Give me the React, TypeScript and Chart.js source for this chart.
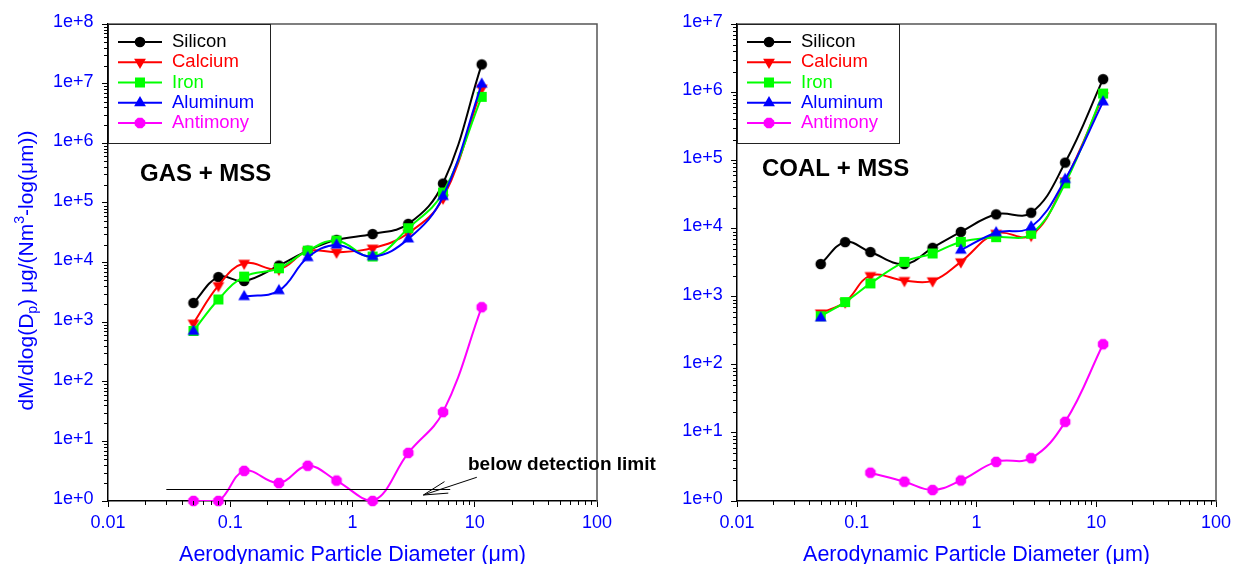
import React, { useEffect, useRef } from 'react';
import { Chart, registerables } from 'chart.js';

Chart.register(...registerables);

const FONT = '"Liberation Sans", Arial, Helvetica, sans-serif';
const AXIS_BLUE = '#0000ff';

// ---------------- data ----------------
const diameters = [0.05, 0.08, 0.13, 0.25, 0.43, 0.74, 1.46, 2.86, 5.5, 11.4];

const gasSilicon = [2100, 5700, 4900, 8900, 15800, 24000, 30000, 44500, 211000, 21000000];
const gasCalcium = [960, 4100, 9700, 7700, 15500, 14900, 17400, 31000, 120000, 8400000];
const gasIron = [710, 2400, 5800, 8000, 15800, 23300, 12600, 37600, 149000, 6000000];
const gasAluminum = [700, null, 2680, 3370, 12100, 19700, 12600, 24900, 128000, 9800000];
const gasAntimony = [1.0, 1.0, 3.2, 2.0, 3.9, 2.2, 1.0, 6.4, 31, 1780];

const coalSilicon = [3000, 6300, 4500, 3000, 5200, 8900, 16100, 17000, 92500, 1550000];
const coalCalcium = [575, 830, 2030, 1720, 1700, 3230, 8450, 7900, 49700, 880000];
const coalIron = [515, 830, 1560, 3230, 4290, 6340, 7440, 8340, 45900, 955000];
const coalAluminum = [486, null, null, null, null, 4800, 8650, 10500, 52400, 720000];
const coalAntimony = [null, null, 2.6, 1.92, 1.45, 2.0, 3.75, 4.25, 14.5, 200];

const seriesNames = ['Silicon', 'Calcium', 'Iron', 'Aluminum', 'Antimony'];
const seriesColors = ['#000000', '#ff0000', '#00ff00', '#0000ff', '#ff00ff'];
type MarkerKind = 'circle' | 'triangleDown' | 'square' | 'triangle' | 'octagon';
const seriesMarkers: MarkerKind[] = ['circle', 'triangleDown', 'square', 'triangle', 'octagon'];

const xTickValues = [0.01, 0.1, 1, 10, 100];
const xTickLabels = ['0.01', '0.1', '1', '10', '100'];
const gasYTickValues = [1, 10, 100, 1e3, 1e4, 1e5, 1e6, 1e7, 1e8];
const gasYTickLabels = ['1e+0', '1e+1', '1e+2', '1e+3', '1e+4', '1e+5', '1e+6', '1e+7', '1e+8'];
const coalYTickValues = [1, 10, 100, 1e3, 1e4, 1e5, 1e6, 1e7];
const coalYTickLabels = ['1e+0', '1e+1', '1e+2', '1e+3', '1e+4', '1e+5', '1e+6', '1e+7'];

const xAxisTitle = 'Aerodynamic Particle Diameter (\u03bcm)';
const yAxisTitleParts = [
  { text: 'dM/dlog(D', kind: 'normal' },
  { text: 'p', kind: 'sub' },
  { text: ') \u03bcg/(Nm', kind: 'normal' },
  { text: '3', kind: 'sup' },
  { text: '-log(\u03bcm))', kind: 'normal' },
];

const detectionLimit = 1.57;
const detectionLineX = [0.03, 6.3];
const arrowTip = { x: 3.8, y: 1.26 };
const arrowTail = { x: 10.4, y: 2.5 };
const detectionLabel = { text: 'below detection limit', x: 8.8, y: 4.0 };

// ---------------- helpers ----------------
function traceMarker(ctx: CanvasRenderingContext2D, kind: MarkerKind, x: number, y: number) {
  ctx.beginPath();
  if (kind === 'circle') {
    ctx.arc(x, y, 5.3, 0, Math.PI * 2);
  } else if (kind === 'square') {
    ctx.rect(x - 5, y - 5, 10, 10);
  } else if (kind === 'triangle' || kind === 'triangleDown') {
    const r = 6.8;
    const s = kind === 'triangle' ? 1 : -1;
    ctx.moveTo(x, y - s * r);
    ctx.lineTo(x + r * 0.866, y + s * r * 0.5);
    ctx.lineTo(x - r * 0.866, y + s * r * 0.5);
  } else {
    const r = 5.7;
    for (let k = 0; k < 8; k++) {
      const a = Math.PI / 8 + (k * Math.PI) / 4;
      const px = x + r * Math.cos(a);
      const py = y + r * Math.sin(a);
      if (k === 0) ctx.moveTo(px, py);
      else ctx.lineTo(px, py);
    }
  }
  ctx.closePath();
}

function makeMarkerImage(kind: MarkerKind, color: string) {
  const c = document.createElement('canvas');
  c.width = 16;
  c.height = 16;
  const ctx = c.getContext('2d')!;
  ctx.fillStyle = color;
  traceMarker(ctx, kind, 8, 8);
  ctx.fill();
  return c;
}

type PanelSpec = {
  id: string;
  canvasLeft: number;
  canvasWidth: number;
  yAxisWidth: number;
  padRight: number;
  yMax: number;
  yTickValues: number[];
  yTickLabels: string[];
  yTickPadding: number;
  series: (number | null)[][];
  title: string;
  titleOffset: { dx: number; dy: number };
  showYTitle: boolean;
  showDetection: boolean;
};

const panels: PanelSpec[] = [
  {
    id: 'gas',
    canvasLeft: 0,
    canvasWidth: 670,
    yAxisWidth: 108,
    padRight: 73,
    yMax: 1e8,
    yTickValues: gasYTickValues,
    yTickLabels: gasYTickLabels,
    yTickPadding: 8.5,
    series: [gasSilicon, gasCalcium, gasIron, gasAluminum, gasAntimony],
    title: 'GAS + MSS',
    titleOffset: { dx: 32, dy: 150 },
    showYTitle: true,
    showDetection: true,
  },
  {
    id: 'coal',
    canvasLeft: 670,
    canvasWidth: 573,
    yAxisWidth: 67,
    padRight: 27,
    yMax: 1e7,
    yTickValues: coalYTickValues,
    yTickLabels: coalYTickLabels,
    yTickPadding: 8.3,
    series: [coalSilicon, coalCalcium, coalIron, coalAluminum, coalAntimony],
    title: 'COAL + MSS',
    titleOffset: { dx: 25, dy: 145 },
    showYTitle: false,
    showDetection: false,
  },
];

function makeDecorPlugin(p: PanelSpec) {
  return {
    id: 'decor_' + p.id,
    afterDraw(chart: any) {
      const { ctx, chartArea: a, scales } = chart;
      const xs = scales.x;
      const ys = scales.y;
      ctx.save();

      // frame top / right
      ctx.strokeStyle = '#555555';
      ctx.lineWidth = 1.5;
      ctx.beginPath();
      ctx.moveTo(a.left, a.top);
      ctx.lineTo(a.right, a.top);
      ctx.lineTo(a.right, a.bottom);
      ctx.stroke();

      // minor ticks
      ctx.strokeStyle = '#000';
      ctx.lineWidth = 1;
      ctx.beginPath();
      for (let e = -2; e < 2; e++) {
        for (let k = 2; k <= 9; k++) {
          const px = Math.round(xs.getPixelForValue(k * Math.pow(10, e))) + 0.5;
          ctx.moveTo(px, a.bottom);
          ctx.lineTo(px, a.bottom + 4);
        }
      }
      for (let e = 0; e < Math.log10(p.yMax); e++) {
        for (let k = 2; k <= 9; k++) {
          const py = Math.round(ys.getPixelForValue(k * Math.pow(10, e))) + 0.5;
          ctx.moveTo(a.left, py);
          ctx.lineTo(a.left - 4, py);
        }
      }
      ctx.stroke();

      // legend
      const lx = a.left;
      const ly = a.top;
      ctx.fillStyle = '#ffffff';
      ctx.fillRect(lx, ly, 162, 119);
      ctx.strokeStyle = '#222';
      ctx.lineWidth = 1;
      ctx.strokeRect(lx + 0.5, ly + 0.5, 162, 119);
      ctx.font = `18.5px ${FONT}`;
      ctx.textBaseline = 'middle';
      ctx.textAlign = 'left';
      seriesNames.forEach((name, i) => {
        const ry = ly + 18 + i * 20.25;
        ctx.strokeStyle = seriesColors[i];
        ctx.lineWidth = 2;
        ctx.beginPath();
        ctx.moveTo(lx + 10, ry);
        ctx.lineTo(lx + 54, ry);
        ctx.stroke();
        ctx.fillStyle = seriesColors[i];
        traceMarker(ctx, seriesMarkers[i], lx + 32, ry);
        ctx.fill();
        ctx.fillText(name, lx + 64, ry);
      });

      // panel title
      ctx.fillStyle = '#000';
      ctx.font = `bold 24px ${FONT}`;
      ctx.textBaseline = 'middle';
      ctx.fillText(p.title, a.left + p.titleOffset.dx, a.top + p.titleOffset.dy);

      // y axis title
      if (p.showYTitle) {
        const mainFont = `21px ${FONT}`;
        const smallFont = `14px ${FONT}`;
        let total = 0;
        const widths = yAxisTitleParts.map((s) => {
          ctx.font = s.kind === 'normal' ? mainFont : smallFont;
          const w = ctx.measureText(s.text).width;
          total += w;
          return w;
        });
        ctx.save();
        ctx.translate(33, (a.top + a.bottom) / 2 + 8);
        ctx.rotate(-Math.PI / 2);
        ctx.fillStyle = AXIS_BLUE;
        ctx.textBaseline = 'alphabetic';
        let pos = -total / 2;
        yAxisTitleParts.forEach((s, i) => {
          ctx.font = s.kind === 'normal' ? mainFont : smallFont;
          const dy = s.kind === 'sub' ? 4 : s.kind === 'sup' ? -9 : 0;
          ctx.fillText(s.text, pos, dy);
          pos += widths[i];
        });
        ctx.restore();
      }

      // detection limit annotation
      if (p.showDetection) {
        ctx.strokeStyle = '#000';
        ctx.lineWidth = 1;
        const dy = Math.round(ys.getPixelForValue(detectionLimit)) + 0.5;
        ctx.beginPath();
        ctx.moveTo(xs.getPixelForValue(detectionLineX[0]), dy);
        ctx.lineTo(xs.getPixelForValue(detectionLineX[1]), dy);
        ctx.stroke();
        const tx = xs.getPixelForValue(arrowTip.x);
        const ty = ys.getPixelForValue(arrowTip.y);
        const sx = xs.getPixelForValue(arrowTail.x);
        const sy = ys.getPixelForValue(arrowTail.y);
        const ang = Math.atan2(sy - ty, sx - tx);
        const hl = 25;
        const spread = (14 * Math.PI) / 180;
        ctx.beginPath();
        ctx.moveTo(sx, sy);
        ctx.lineTo(tx, ty);
        ctx.moveTo(tx + hl * Math.cos(ang - spread), ty + hl * Math.sin(ang - spread));
        ctx.lineTo(tx, ty);
        ctx.lineTo(tx + hl * Math.cos(ang + spread), ty + hl * Math.sin(ang + spread));
        ctx.stroke();
        ctx.fillStyle = '#000';
        ctx.font = `bold 19px ${FONT}`;
        ctx.textBaseline = 'middle';
        ctx.textAlign = 'left';
        ctx.fillText(
          detectionLabel.text,
          xs.getPixelForValue(detectionLabel.x),
          ys.getPixelForValue(detectionLabel.y)
        );
      }
      ctx.restore();
    },
  };
}

function buildConfig(p: PanelSpec): any {
  const datasets: any[] = [];
  p.series.forEach((vals, i) => {
    const img = makeMarkerImage(seriesMarkers[i], seriesColors[i]);
    const base = {
      label: seriesNames[i],
      data: diameters.map((d, j) => ({ x: d, y: vals[j] })),
      borderColor: seriesColors[i],
      backgroundColor: seriesColors[i],
      borderWidth: 2,
      tension: 0.4,
      spanGaps: false,
      pointStyle: img,
      pointRadius: 6,
      pointHoverRadius: 6,
      pointBorderWidth: 0,
      order: 10 - i,
    };
    if (i === 4) {
      datasets.push({ ...base, pointRadius: 0, pointHoverRadius: 0 });
      datasets.push({ ...base, showLine: false, clip: false, order: 0 });
    } else {
      datasets.push(base);
    }
  });

  return {
    type: 'line',
    data: { datasets },
    options: {
      animation: false,
      responsive: false,
      maintainAspectRatio: false,
      devicePixelRatio: 1,
      events: [],
      layout: { padding: { left: 0, top: 24, right: p.padRight, bottom: 0 } },
      plugins: { legend: { display: false }, tooltip: { enabled: false } },
      scales: {
        x: {
          type: 'logarithmic',
          min: 0.01,
          max: 100,
          afterBuildTicks: (axis: any) => {
            axis.ticks = xTickValues.map((v) => ({ value: v, major: true }));
          },
          afterFit: (axis: any) => {
            axis.height = 63;
          },
          ticks: {
            autoSkip: false,
            maxRotation: 0,
            padding: 5,
            color: AXIS_BLUE,
            font: { family: FONT, size: 18 },
            callback: (_v: any, i: number) => xTickLabels[i],
          },
          grid: { drawOnChartArea: false, drawTicks: true, tickLength: 6, tickColor: '#000', tickWidth: 1 },
          border: { display: true, color: '#000', width: 1.5 },
          title: {
            display: true,
            text: xAxisTitle,
            color: AXIS_BLUE,
            font: { family: FONT, size: 21.5, lineHeight: 0.8 },
            padding: { top: 0, bottom: 0 },
          },
        },
        y: {
          type: 'logarithmic',
          min: 1,
          max: p.yMax,
          afterBuildTicks: (axis: any) => {
            axis.ticks = p.yTickValues.map((v) => ({ value: v, major: true }));
          },
          afterFit: (axis: any) => {
            axis.width = p.yAxisWidth;
          },
          ticks: {
            autoSkip: false,
            padding: p.yTickPadding,
            labelOffset: -2,
            color: AXIS_BLUE,
            font: { family: FONT, size: 18 },
            callback: (_v: any, i: number) => p.yTickLabels[i],
          },
          grid: { drawOnChartArea: false, drawTicks: true, tickLength: 6, tickColor: '#000', tickWidth: 1 },
          border: { display: true, color: '#000', width: 1.5 },
        },
      },
    },
    plugins: [makeDecorPlugin(p)],
  };
}

function Panel({ spec }: { spec: PanelSpec }) {
  const ref = useRef<HTMLCanvasElement>(null);
  useEffect(() => {
    const chart = new Chart(ref.current!, buildConfig(spec));
    return () => chart.destroy();
  }, [spec]);
  return (
    <canvas
      ref={ref}
      width={spec.canvasWidth}
      height={564}
      style={{ position: 'absolute', left: spec.canvasLeft, top: 0, width: spec.canvasWidth, height: 564 }}
    />
  );
}

export default function App() {
  return (
    <div style={{ position: 'absolute', left: 0, top: 0, width: 1243, height: 564, background: '#ffffff', overflow: 'hidden' }}>
      {panels.map((p) => (
        <Panel key={p.id} spec={p} />
      ))}
    </div>
  );
}
